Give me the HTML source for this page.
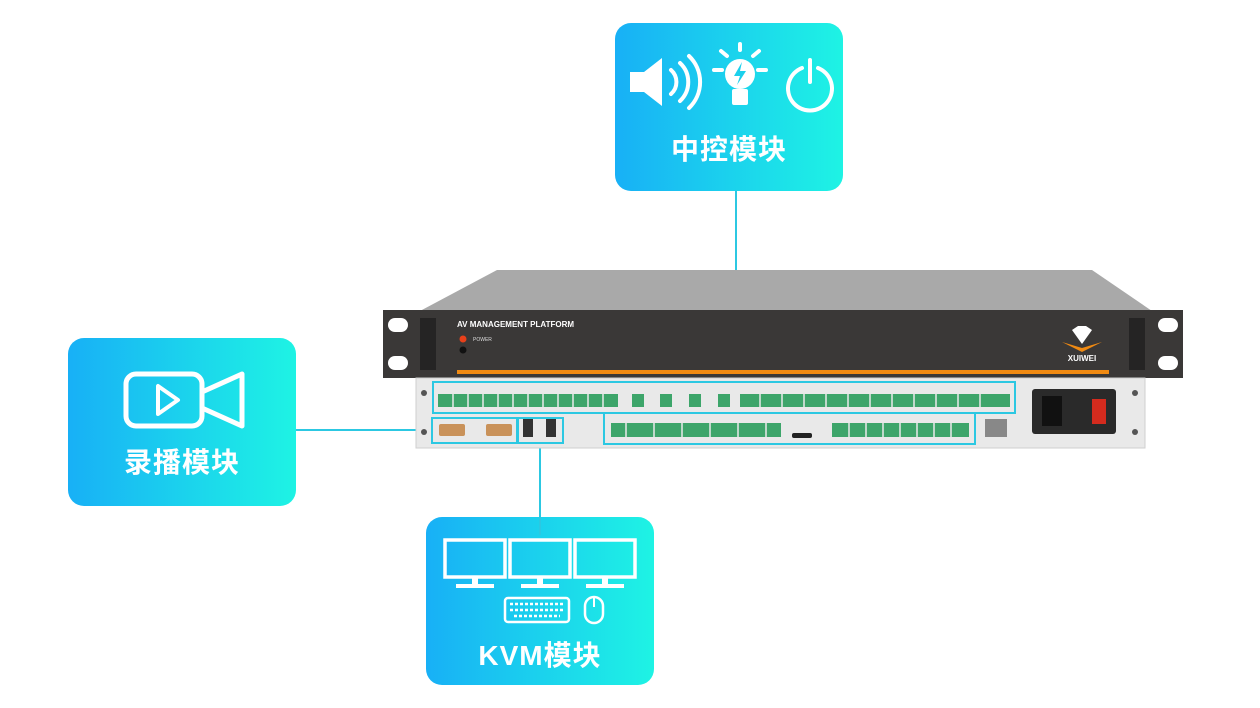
<!DOCTYPE html>
<html><head><meta charset="utf-8"><style>
html,body{margin:0;padding:0;background:#fff;}
body{width:1260px;height:708px;position:relative;overflow:hidden;font-family:"Liberation Sans","Noto Sans CJK SC",sans-serif;}
.box{position:absolute;width:228px;height:168px;border-radius:16px;background:linear-gradient(90deg,#18b0f6,#1ef3e4);}
.lbl{position:absolute;left:0;right:0;text-align:center;color:#fff;font-weight:bold;font-size:28px;letter-spacing:1px;}
</style></head><body>
<svg width="1260" height="708" style="position:absolute;left:0;top:0">
<g stroke="#2cc8e2" stroke-width="2" fill="none">
<line x1="736" y1="190" x2="736" y2="384"/>
<line x1="296" y1="430" x2="433" y2="430"/>
<line x1="540" y1="443" x2="540" y2="518"/>
</g>
<polygon points="497,270 1092,270 1152,311 420,311" fill="#a9a9a9"/>
<rect x="383" y="310" width="800" height="68" fill="#3a3837"/>
<rect x="420" y="318" width="16" height="52" fill="#252424"/>
<rect x="1129" y="318" width="16" height="52" fill="#252424"/>
<rect x="388" y="318" width="20" height="14" rx="7" fill="#fff"/>
<rect x="388" y="356" width="20" height="14" rx="7" fill="#fff"/>
<rect x="1158" y="318" width="20" height="14" rx="7" fill="#fff"/>
<rect x="1158" y="356" width="20" height="14" rx="7" fill="#fff"/>
<text x="457" y="327" font-size="8" font-weight="bold" fill="#fff" font-family="Liberation Sans">AV MANAGEMENT PLATFORM</text>
<circle cx="463" cy="339" r="3.5" fill="#e8401a"/>
<text x="473" y="341" font-size="5" fill="#ddd" font-family="Liberation Sans">POWER</text>
<circle cx="463" cy="350" r="3.5" fill="#111"/>
<rect x="457" y="370" width="652" height="4" fill="#f08a12"/>
<polygon points="1072,330 1082,344 1092,330 1086,326 1078,326" fill="#fff"/>
<polygon points="1062,342 1082,352 1102,342 1082,348" fill="#f08a12"/>
<text x="1082" y="361" font-size="8" font-weight="bold" fill="#fff" text-anchor="middle" font-family="Liberation Sans">XUIWEI</text>
<rect x="416" y="378" width="729" height="70" fill="#e9e9e9" stroke="#cfcfcf"/>
<circle cx="424" cy="393" r="3" fill="#555"/><circle cx="424" cy="432" r="3" fill="#555"/>
<circle cx="1135" cy="393" r="3" fill="#555"/><circle cx="1135" cy="432" r="3" fill="#555"/>
<g fill="#3da56a">
<rect x="438" y="394" width="180" height="13"/>
<rect x="632" y="394" width="12" height="13"/><rect x="660" y="394" width="12" height="13"/><rect x="689" y="394" width="12" height="13"/><rect x="718" y="394" width="12" height="13"/>
<rect x="740" y="394" width="270" height="13"/>
<rect x="611" y="423" width="170" height="14"/>
<rect x="832" y="423" width="137" height="14"/>
</g>
<g stroke="#e9e9e9" stroke-width="1.5">
<path d="M453 394v13M468 394v13M483 394v13M498 394v13M513 394v13M528 394v13M543 394v13M558 394v13M573 394v13M588 394v13M603 394v13M760 394v13M782 394v13M804 394v13M826 394v13M848 394v13M870 394v13M892 394v13M914 394v13M936 394v13M958 394v13M980 394v13M626 423v14M654 423v14M682 423v14M710 423v14M738 423v14M766 423v14M849 423v14M866 423v14M883 423v14M900 423v14M917 423v14M934 423v14M951 423v14"/>
</g>
<rect x="792" y="433" width="20" height="5" rx="2" fill="#222"/>
<rect x="439" y="424" width="26" height="12" rx="2" fill="#c9925a"/>
<rect x="486" y="424" width="26" height="12" rx="2" fill="#c9925a"/>
<rect x="523" y="419" width="10" height="18" fill="#333"/><rect x="546" y="419" width="10" height="18" fill="#333"/>
<rect x="985" y="419" width="22" height="18" fill="#888"/>
<rect x="1032" y="389" width="84" height="45" rx="3" fill="#2a2a2a"/>
<rect x="1042" y="396" width="20" height="30" fill="#111"/>
<rect x="1092" y="399" width="14" height="25" fill="#d42b1e"/>
<g stroke="#2cc8e2" stroke-width="2" fill="none">
<rect x="433" y="382" width="582" height="31"/>
<path d="M604 413V444H975V413"/>
<rect x="432" y="418" width="85" height="25"/>
<rect x="518" y="418" width="45" height="25"/>
</g>
</svg>
<div class="box" style="left:615px;top:23px;"><div class="lbl" style="top:105px">中控模块</div></div>
<div class="box" style="left:68px;top:338px;"><div class="lbl" style="top:103px">录播模块</div></div>
<div class="box" style="left:426px;top:517px;"><div class="lbl" style="top:117px">KVM模块</div></div>
<svg width="1260" height="708" style="position:absolute;left:0;top:0">
<g stroke="#fff" stroke-width="4" fill="none" stroke-linecap="round">
<path d="M671 70a16 16 0 0 1 0 24"/><path d="M680 63a26 26 0 0 1 0 38"/><path d="M689 56a36 36 0 0 1 0 52"/>
<path d="M802 68a22 22 0 1 0 16 0"/><path d="M810 60v22"/>
<path d="M727 56l-6-5M753 56l6-5M740 50v-6M722 70h-8M758 70h8"/>
</g>
<path d="M630 72h14l18-14v48l-18-14h-14z" fill="#fff"/>
<circle cx="740" cy="74" r="15" fill="#fff"/>
<rect x="732" y="89" width="16" height="16" rx="2" fill="#fff"/>
<path d="M742 62l-8 14h6l-3 9 9-14h-6z" fill="#1bd0ec"/>
<g stroke="#fff" stroke-width="5" fill="none" stroke-linejoin="round">
<rect x="126" y="374" width="76" height="52" rx="10"/>
<path d="M202 392l40-18v52l-40-18"/>
<path d="M158 386v28l20-14z" stroke-width="4"/>
</g>
<g stroke="#fff" stroke-width="3.5" fill="none">
<rect x="445" y="540" width="60" height="37"/><rect x="510" y="540" width="60" height="37"/><rect x="575" y="540" width="60" height="37"/>
<rect x="505" y="598" width="64" height="24" rx="3" stroke-width="2.5"/>
<rect x="585" y="597" width="18" height="26" rx="9" stroke-width="2.5"/>
</g>
<g stroke="#fff" stroke-width="2.5" stroke-dasharray="3 2">
<path d="M510 604h54M510 610h54M514 616h46"/>
</g>
<path d="M594 598v9" stroke="#fff" stroke-width="2"/>
<g fill="#fff">
<rect x="472" y="577" width="6" height="7"/><rect x="456" y="584" width="38" height="4"/>
<rect x="537" y="577" width="6" height="7"/><rect x="521" y="584" width="38" height="4"/>
<rect x="602" y="577" width="6" height="7"/><rect x="586" y="584" width="38" height="4"/>
</g>
<line x1="540" y1="517" x2="540" y2="535" stroke="#2cc8e2" stroke-width="2"/>
</svg>
</body></html>
